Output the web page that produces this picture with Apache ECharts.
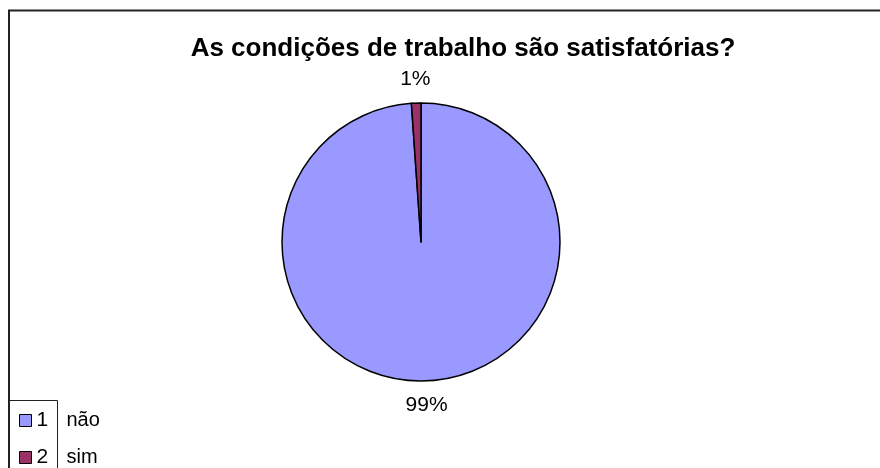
<!DOCTYPE html>
<html>
<head>
<meta charset="utf-8">
<script src="https://cdn.jsdelivr.net/npm/echarts@6/dist/echarts.min.js"></script>
<style>
html,body{margin:0;padding:0;background:#fff;}
#chart{width:880px;height:468px;}
</style>
</head>
<body>
<div id="chart"></div>
<script>
var titleText = 'As condições de trabalho são satisfatórias?';
var categories = ['não', 'sim'];
var legendKeys = ['1', '2'];
var values = [98.9, 1.1];
var percentLabels = ['99%', '1%'];
var colors = ['#9999FF', '#993366'];

var chart = echarts.init(document.getElementById('chart'), null, {renderer: 'canvas'});
var FONT = '"Liberation Sans", Arial, sans-serif';

var legends = categories.map(function (c, i) {
  return {
    orient: 'vertical',
    left: 19,
    top: 410 + i * 37,
    itemWidth: 12,
    itemHeight: 12,
    icon: 'rect',
    padding: 0,
    data: [c],
    itemStyle: {borderColor: '#000', borderWidth: 1},
    formatter: function (name) {
      var k = categories.indexOf(name);
      return '{k|' + legendKeys[k] + '}{n|' + name + '}';
    },
    textStyle: {
      fontFamily: FONT, fontSize: 20, color: '#000',
      rich: {
        k: {fontFamily: FONT, fontSize: 21, width: 30, lineHeight: 18},
        n: {fontFamily: FONT, fontSize: 20, lineHeight: 18}
      }
    }
  };
});

var option = {
  backgroundColor: '#ffffff',
  animation: false,
  title: {
    text: titleText,
    left: 458,
    textAlign: 'center',
    top: 31,
    textStyle: {fontFamily: FONT, fontWeight: 'bold', fontSize: 26, color: '#000'}
  },
  legend: legends,
  graphic: [
    {type: 'rect', silent: true, z: 0,
     shape: {x: 9, y: 10.5, width: 900, height: 500},
     style: {fill: 'none', stroke: '#222', lineWidth: 2}},
    {type: 'polyline', silent: true, z: 0,
     shape: {points: [[9, 400.5], [57.5, 400.5], [57.5, 480]]},
     style: {fill: 'none', stroke: '#222', lineWidth: 1}}
  ],
  series: [{
    type: 'pie',
    center: [421, 242],
    radius: 139,
    startAngle: 90,
    clockwise: true,
    minAngle: 0,
    avoidLabelOverlap: false,
    itemStyle: {borderColor: '#000', borderWidth: 1.5},
    label: {
      show: true,
      position: 'outside',
      fontFamily: FONT,
      fontSize: 21,
      color: '#000',
      formatter: function (p) { return percentLabels[p.dataIndex]; }
    },
    labelLine: {show: false, length: 24, length2: 0},
    labelLayout: function (p) {
      var pts = p.labelLinePoints;
      if (pts && pts.length) {
        var e = pts[pts.length - 1];
        return {x: e[0], y: e[1], align: 'center', verticalAlign: 'middle'};
      }
      return {};
    },
    emphasis: {disabled: true},
    data: categories.map(function (c, i) {
      return {name: c, value: values[i], itemStyle: {color: colors[i]}};
    })
  }]
};
chart.setOption(option);
</script>
</body>
</html>
